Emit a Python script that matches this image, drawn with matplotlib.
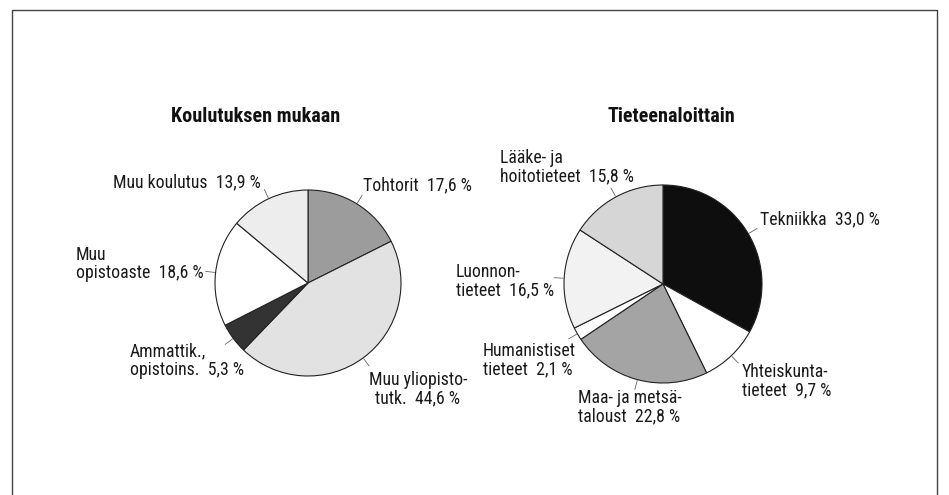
import numpy as np
import matplotlib
matplotlib.use("Agg")
import matplotlib.pyplot as plt
from matplotlib import font_manager

# pick a narrow sans face if one is installed
fonts = font_manager.fontManager.ttflist
names = {f.name for f in fonts}
family, stretch = 'Roboto', 'normal'
for cand in ['Liberation Sans Narrow', 'Roboto Condensed', 'Open Sans Condensed', 'Noto Sans Condensed']:
    if cand in names:
        family = cand
        break
else:
    for f in fonts:
        if f.name in ('Noto Sans', 'DejaVu Sans', 'Open Sans', 'Roboto') and 'condensed' in str(f.stretch):
            family, stretch = f.name, 'condensed'
            break
plt.rcParams['font.family'] = [family, 'DejaVu Sans']
plt.rcParams['font.stretch'] = stretch

# Koulutuksen mukaan (clockwise from top)
edu_labels = ['Tohtorit  17,6 %', 'Muu yliopisto-\ntutk.  44,6 %', 'Ammattik.,\nopistoins.  5,3 %',
              'Muu\nopistoaste  18,6 %', 'Muu koulutus  13,9 %']
edu_values = [17.6, 44.6, 5.3, 18.6, 13.9]
edu_colors = ['#9c9c9c', '#e2e2e2', '#333333', '#ffffff', '#ededed']

# Tieteenaloittain (clockwise from top)
sci_labels = ['Tekniikka  33,0 %', 'Yhteiskunta-\ntieteet  9,7 %', 'Maa- ja metsä-\ntaloust  22,8 %',
              'Humanistiset\ntieteet  2,1 %', 'Luonnon-\ntieteet  16,5 %', 'Lääke- ja\nhoitotieteet  15,8 %']
sci_values = [33.0, 9.7, 22.8, 2.1, 16.5, 15.8]
sci_colors = ['#0e0e0e', '#ffffff', '#a4a4a4', '#ffffff', '#f2f2f2', '#d6d6d6']

W, H = 949, 495
fig = plt.figure(figsize=(W / 100, H / 100), dpi=100)
ax = fig.add_axes([0, 0, 1, 1])


def draw_pie(values, colors, labels, center, radius, label_pos, align):
    # y axis is flipped later, so counterclock in data = clockwise on screen
    wedges, _ = ax.pie(values, colors=colors, center=center, radius=radius,
                       startangle=-90, counterclock=True,
                       wedgeprops=dict(edgecolor='#222222', linewidth=0.8))
    for w, lab, (tx, ty), ha in zip(wedges, labels, label_pos, align):
        mid = np.deg2rad((w.theta1 + w.theta2) / 2)
        x0 = center[0] + (radius + 1) * np.cos(mid)
        y0 = center[1] + (radius + 1) * np.sin(mid)
        x1 = center[0] + (radius + 10) * np.cos(mid)
        y1 = center[1] + (radius + 10) * np.sin(mid)
        ax.plot([x0, x1], [y0, y1], color='#666666', lw=0.6)
        ax.text(tx, ty, lab, ha=ha, va='center', multialignment=ha,
                fontsize=12.8, linespacing=1.05, color='#1a1a1a')


draw_pie(edu_values, edu_colors, edu_labels, (308, 283), 93,
         [(363, 185), (418, 389), (130, 361), (76, 264), (113, 182)],
         ['left', 'center', 'left', 'left', 'left'])
draw_pie(sci_values, sci_colors, sci_labels, (663, 284), 99,
         [(760, 219), (742, 381), (578, 407), (483, 360), (456, 281), (500, 167)],
         ['left', 'left', 'left', 'left', 'left', 'left'])

ax.text(256, 116, 'Koulutuksen mukaan', ha='center', va='center',
        fontsize=14.5, fontweight='bold', color='#111111')
ax.text(671, 116, 'Tieteenaloittain', ha='center', va='center',
        fontsize=14.5, fontweight='bold', color='#111111')

# frame
ax.plot([12, 12, 937, 937], [H, 10, 10, H], color='#444444', lw=1.0)

ax.set_xlim(0, W)
ax.set_ylim(H, 0)
ax.set_aspect('equal')
ax.axis('off')

fig.savefig('out.png', dpi=100)
